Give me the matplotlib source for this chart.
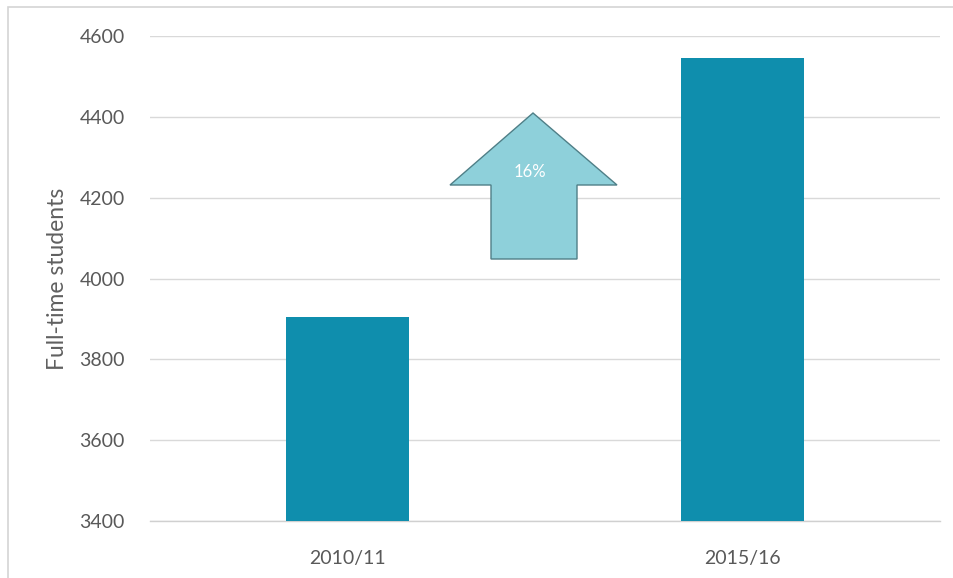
import matplotlib
matplotlib.use("Agg")
import matplotlib.pyplot as plt
from matplotlib.patches import Polygon, Rectangle

# Data
years = ["2010/11", "2015/16"]
students = [3905, 4545]
y_ticks = [3400, 3600, 3800, 4000, 4200, 4400, 4600]
change_label = "16%"

plt.rcParams["font.family"] = ["Lato", "DejaVu Sans"]

W, H = 954, 578
fig = plt.figure(figsize=(W / 100, H / 100), dpi=100)
fig.patch.set_facecolor("white")

# thin frame around the chart area
fig.add_artist(Rectangle((8 / W, -0.01), 1.02, 1 - 7 / H + 0.01,
                         transform=fig.transFigure, fill=False,
                         edgecolor="#d4d4d4", linewidth=1.2))

ax = fig.add_axes([150 / W, 57 / H, 790 / W, 485 / H])
ax.bar(range(len(years)), students, width=0.31, color="#0F8EAD", zorder=3)

ax.set_xlim(-0.5, 1.5)
ax.set_ylim(y_ticks[0], y_ticks[-1])
ax.set_yticks(y_ticks)
ax.set_xticks(range(len(years)))
ax.set_xticklabels(years)
ax.grid(axis="y", color="#d9d9d9", linewidth=1.0, zorder=0)
ax.tick_params(axis="both", length=0, labelsize=14, colors="#595959")
ax.tick_params(axis="x", pad=21)
ax.tick_params(axis="y", pad=18)
for side in ("top", "right", "left"):
    ax.spines[side].set_visible(False)
ax.spines["bottom"].set_color("#d0d0d0")
ax.spines["bottom"].set_linewidth(1.0)
ax.set_ylabel("Full-time students", fontsize=16.5, color="#606060", labelpad=8)


def fx(px):
    return (px - 150) / 790


def fy(py):
    return (521 - py) / 485


# up arrow showing the growth between the two years
arrow_pts = [(fx(533), fy(113)), (fx(617), fy(185)), (fx(577), fy(185)),
             (fx(577), fy(259)), (fx(491), fy(259)), (fx(491), fy(185)),
             (fx(450), fy(185))]
ax.add_patch(Polygon(arrow_pts, closed=True, transform=ax.transAxes,
                     facecolor="#8ed0da", edgecolor="#4f7f87", linewidth=1.0,
                     zorder=4))
ax.text(fx(530), fy(172), change_label, transform=ax.transAxes, ha="center",
        va="center", color="white", fontsize=12, zorder=5)

fig.savefig("out.png", dpi=100, facecolor="white")
